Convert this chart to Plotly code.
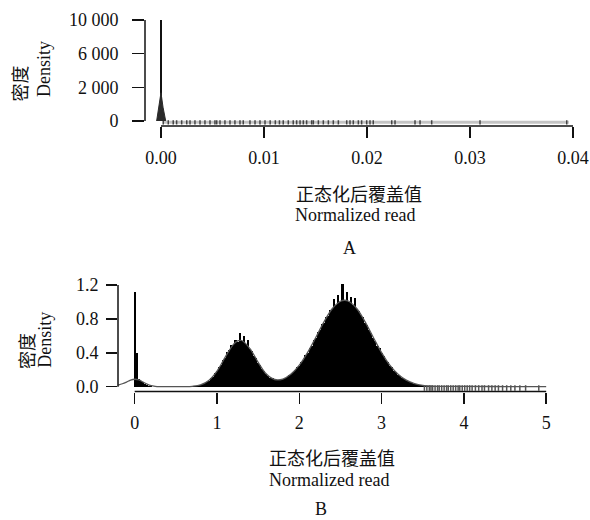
import numpy as np
import plotly.graph_objects as go

W, H = 590, 520
SERIF = "Liberation Serif, Times New Roman, serif"
CJK = "Noto Sans CJK SC"

# ---------------- Panel A data ----------------
a_ytick_values = [0, 2000, 6000, 10000]
a_ytick_labels = ["0", "2 000", "6 000", "10 000"]
a_xtick_values = [0.0, 0.01, 0.02, 0.03, 0.04]
a_xtick_labels = ["0.00", "0.01", "0.02", "0.03", "0.04"]
a_spike_x = [0.0]
a_spike_y = [10000]
a_density_x = [-0.00042, -0.0002, 0.0, 0.0002, 0.00046]
a_density_y = [0, 800, 1680, 820, 0]
a_rug_x = [0.00022, 0.00071, 0.00119, 0.00152, 0.00201, 0.0025, 0.00282, 0.0033,
           0.00379, 0.00427, 0.00476, 0.00524, 0.00541, 0.00573, 0.00621, 0.0067,
           0.00718, 0.00767, 0.00799, 0.00864, 0.00913, 0.00961, 0.0101, 0.0106,
           0.0111, 0.0115, 0.01187, 0.01236, 0.01284, 0.01317, 0.0135, 0.01382,
           0.01414, 0.01463, 0.01479, 0.01528, 0.01576, 0.01625, 0.01673, 0.01722,
           0.01803, 0.01835, 0.01867, 0.01916, 0.01948, 0.01997, 0.02029, 0.02061,
           0.0224, 0.02272, 0.02466, 0.02515, 0.02628, 0.03097, 0.03939]
a_rug_range = [0.0002, 0.0396]

# ---------------- Panel B data ----------------
b_ytick_values = [0.0, 0.4, 0.8, 1.2]
b_ytick_labels = ["0.0", "0.4", "0.8", "1.2"]
b_xtick_values = [0, 1, 2, 3, 4, 5]
b_xtick_labels = ["0", "1", "2", "3", "4", "5"]
b_bin_width = 0.025
b_near0_x = [0.0, 0.025, 0.05, 0.075, 0.1, 0.125, 0.15, 0.175, 0.2]
b_near0_y = [1.12, 0.40, 0.09, 0.07, 0.05, 0.035, 0.02, 0.012, 0.006]
b_main_start = 0.6
b_main_y = [
    0.001, 0.002, 0.002, 0.004, 0.005, 0.008, 0.011, 0.017, 0.021, 0.033,
    0.041, 0.060, 0.072, 0.099, 0.118, 0.157, 0.181, 0.231, 0.258, 0.316,
    0.344, 0.405, 0.428, 0.489, 0.497, 0.551, 0.532, 0.628, 0.541, 0.596,
    0.507, 0.552, 0.443, 0.423, 0.362, 0.339, 0.281, 0.255, 0.205, 0.183,
    0.146, 0.129, 0.104, 0.097, 0.083, 0.081, 0.078, 0.085, 0.088, 0.103,
    0.111, 0.134, 0.146, 0.176, 0.192, 0.231, 0.249, 0.296, 0.318, 0.371,
    0.396, 0.456, 0.482, 0.547, 0.572, 0.641, 0.665, 0.736, 0.754, 0.826,
    0.838, 0.905, 0.911, 1.035, 0.962, 1.082, 1.005, 1.215, 1.012, 1.118,
    0.996, 1.064, 0.968, 1.045, 0.912, 0.898, 0.841, 0.822, 0.757, 0.733,
    0.668, 0.639, 0.574, 0.545, 0.483, 0.453, 0.396, 0.368, 0.318, 0.292,
    0.250, 0.227, 0.191, 0.172, 0.143, 0.128, 0.105, 0.093, 0.075, 0.066,
    0.053, 0.046, 0.036, 0.031, 0.024, 0.021, 0.016, 0.013, 0.010, 0.008,
    0.006, 0.006, 0.005, 0.007, 0.004, 0.005, 0.003, 0.006, 0.004, 0.003,
    0.005, 0.002, 0.004, 0.003, 0.002, 0.003, 0.002, 0.003, 0.001, 0.002,
    0.002,
]
b_density_x = [-0.2, -0.15, -0.1, -0.05, 0.0, 0.05, 0.1, 0.15, 0.2, 0.25, 0.3,
               0.4, 0.5, 0.6, 0.7, 0.8, 0.9, 1.0, 1.1, 1.2, 1.25, 1.3, 1.4, 1.5,
               1.6, 1.7, 1.8, 1.9, 2.0, 2.1, 2.2, 2.3, 2.4, 2.5, 2.55, 2.6, 2.7,
               2.8, 2.9, 3.0, 3.1, 3.2, 3.3, 3.4, 3.5, 3.6, 3.8, 4.0, 4.5, 5.0]
b_density_y = [0.02, 0.035, 0.055, 0.078, 0.088, 0.08, 0.055, 0.03, 0.012, 0.004,
               0.001, 0.0, 0.0, 0.001, 0.005, 0.022, 0.074, 0.185, 0.35, 0.50,
               0.54, 0.545, 0.45, 0.288, 0.149, 0.085, 0.09, 0.149, 0.254, 0.402,
               0.58, 0.765, 0.92, 1.008, 1.02, 1.008, 0.92, 0.765, 0.58, 0.402,
               0.254, 0.147, 0.077, 0.037, 0.016, 0.007, 0.004, 0.003, 0.002, 0.001]
b_rug_x = [3.52, 3.55, 3.58, 3.60, 3.62, 3.65, 3.68, 3.70, 3.73, 3.76, 3.79, 3.81,
           3.84, 3.87, 3.90, 3.93, 3.95, 3.98, 4.01, 4.04, 4.07, 4.10, 4.14, 4.18,
           4.22, 4.25, 4.30, 4.34, 4.38, 4.42, 4.47, 4.52, 4.57, 4.62, 4.68, 4.75,
           4.91]


def a_scale(v):
    return np.interp(np.asarray(v, dtype=float), a_ytick_values,
                     np.arange(len(a_ytick_values)))


def px_x(p):
    return p / W


def px_y(p):
    return 1 - p / H


b_main_x = b_main_start + b_bin_width * np.arange(len(b_main_y))

fig = go.Figure()

# Panel A
fig.add_trace(go.Scatter(x=a_rug_range, y=[-0.04, -0.04], mode="lines",
                         line=dict(color="#c4c4c4", width=3), cliponaxis=False,
                         xaxis="x", yaxis="y", hoverinfo="skip"))
fig.add_trace(go.Scatter(x=a_rug_x, y=[-0.04] * len(a_rug_x), mode="markers",
                         marker=dict(symbol="line-ns", size=3,
                                     line=dict(color="#444", width=1.5)),
                         cliponaxis=False, xaxis="x", yaxis="y"))
fig.add_trace(go.Scatter(x=a_density_x, y=a_scale(a_density_y), mode="lines",
                         fill="toself", fillcolor="#2a2a2a",
                         line=dict(color="#2a2a2a", width=1), xaxis="x", yaxis="y"))
fig.add_trace(go.Bar(x=a_spike_x, y=a_scale(a_spike_y), width=[0.00022],
                     marker=dict(color="#111", line=dict(width=0)),
                     xaxis="x", yaxis="y"))

# Panel B
fig.add_trace(go.Bar(x=b_near0_x, y=b_near0_y, width=b_bin_width,
                     marker=dict(color="#000", line=dict(width=0)),
                     xaxis="x2", yaxis="y2"))
fig.add_trace(go.Bar(x=b_main_x, y=b_main_y, width=b_bin_width,
                     marker=dict(color="#000", line=dict(width=0)),
                     xaxis="x2", yaxis="y2"))
fig.add_trace(go.Scatter(x=b_rug_x, y=[-0.015] * len(b_rug_x), mode="markers",
                         marker=dict(symbol="line-ns", size=4,
                                     line=dict(color="#555", width=1.5)),
                         cliponaxis=False, xaxis="x2", yaxis="y2"))
fig.add_trace(go.Scatter(x=b_density_x, y=b_density_y, mode="lines",
                         line=dict(color="#555", width=1.3, shape="spline"),
                         xaxis="x2", yaxis="y2"))

tick_font = dict(family=SERIF, size=18, color="#111")
common = dict(ticks="outside", tickwidth=1.5, tickcolor="#111", showline=False,
              showgrid=False, zeroline=False, tickfont=tick_font, fixedrange=True,
              automargin=False)

fig.update_layout(
    width=W, height=H, margin=dict(l=0, r=0, t=0, b=0),
    paper_bgcolor="white", plot_bgcolor="white", showlegend=False,
    barmode="overlay", bargap=0,
    xaxis=dict(domain=[px_x(145), px_x(589)], range=[-0.00155, 0.04155],
               tickvals=a_xtick_values, ticktext=a_xtick_labels, ticklen=11,
               anchor="y", ticklabelstandoff=4, **common),
    yaxis=dict(domain=[px_y(126), px_y(15)], range=[-0.1485, 3.1485],
               tickvals=list(range(len(a_ytick_values))), ticktext=a_ytick_labels,
               ticklen=12, anchor="x", ticklabelstandoff=10, **common),
    xaxis2=dict(domain=[px_x(118), px_x(554)], range=[-0.203, 5.095],
                tickvals=b_xtick_values, ticktext=b_xtick_labels, ticklen=11,
                anchor="y2", ticklabelstandoff=4, **common),
    yaxis2=dict(domain=[px_y(391.5), px_y(280)], range=[-0.0566, 1.259],
                tickvals=b_ytick_values, ticktext=b_ytick_labels, ticklen=11,
                anchor="x2", ticklabelstandoff=4, **common),
)

axis_line = dict(color="#111", width=1.5)
fig.add_shape(type="line", xref="x", yref="y domain", x0=a_xtick_values[0],
              x1=a_xtick_values[-1], y0=0, y1=0, line=axis_line)
fig.add_shape(type="line", xref="x domain", yref="y", x0=0, x1=0, y0=0,
              y1=len(a_ytick_values) - 1, line=axis_line)
fig.add_shape(type="line", xref="x2", yref="y2 domain", x0=b_xtick_values[0],
              x1=b_xtick_values[-1], y0=0, y1=0, line=axis_line)
fig.add_shape(type="line", xref="x2 domain", yref="y2", x0=0, x1=0,
              y0=b_ytick_values[0], y1=b_ytick_values[-1], line=axis_line)


def label(text, x, y, family, size=18, angle=0):
    fig.add_annotation(text=text, x=px_x(x), y=px_y(y), xref="paper", yref="paper",
                       xanchor="center", yanchor="middle", showarrow=False,
                       textangle=angle, font=dict(family=family, size=size, color="#111"))


label("正态化后覆盖值", 358.6, 192.7, CJK, 18)
label("Normalized read", 355, 215, SERIF)
label("A", 349.6, 248, SERIF)
label("密度", 19, 83.5, CJK, 18, -90)
label("Density", 44, 69, SERIF, 18, -90)

label("正态化后覆盖值", 332, 456.7, CJK, 18)
label("Normalized read", 329, 480, SERIF)
label("B", 321, 509, SERIF)
label("密度", 26, 351, CJK, 18, -90)
label("Density", 45, 339.7, SERIF, 18, -90)

fig.write_html("out.html",
               config={"displayModeBar": False, "staticPlot": True},
               post_script="document.body.style.margin='0px';"
                           "document.body.style.overflow='hidden';")
